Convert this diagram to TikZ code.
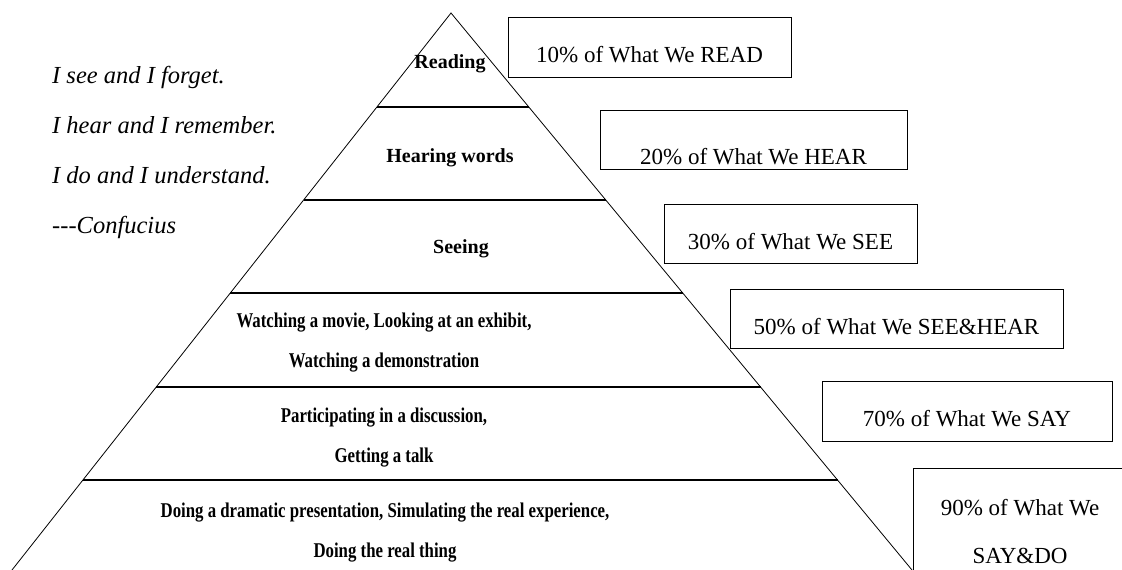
\documentclass[tikz,border=0pt]{standalone}
\usepackage{fontspec}
\setmainfont{Liberation Serif}
\newfontfamily\pyrfont[FakeStretch=0.8]{Liberation Serif}
\usetikzlibrary{calc}

\begin{document}
\begin{tikzpicture}[x=1pt, y=-1pt,
  level/.style={font=\pyrfont\bfseries\fontsize{21}{40}\selectfont, align=center, anchor=base, inner sep=0pt},
  toplevel/.style={level, font=\bfseries\fontsize{20}{40}\selectfont},
  pct/.style={draw, line width=0.9pt, inner sep=0pt, font=\fontsize{23}{48}\selectfont, text height=31pt, text depth=0pt},
  quote/.style={font=\itshape\fontsize{24.5}{28}\selectfont, anchor=base west, inner sep=0pt}]
\useasboundingbox (0,0) rectangle (1122,570);

% pyramid
\coordinate (top) at (451,13);
\coordinate (bl) at (12,570);
\coordinate (br) at (912,570);
\draw[line width=0.8pt] (bl) -- (top) -- (br);
\draw[line width=1.3pt] ($(top)!0.1688!(bl)$) -- ($(top)!0.1688!(br)$);
\draw[line width=1.3pt] ($(top)!0.3357!(bl)$) -- ($(top)!0.3357!(br)$);
\draw[line width=1.3pt] ($(top)!0.5027!(bl)$) -- ($(top)!0.5027!(br)$);
\draw[line width=1.3pt] ($(top)!0.6714!(bl)$) -- ($(top)!0.6714!(br)$);
\draw[line width=1.3pt] ($(top)!0.8384!(bl)$) -- ($(top)!0.8384!(br)$);

% levels
\node[toplevel] (read) at (450,68) {Reading};
\node[toplevel] (hear) at (450,162) {Hearing words};
\node[toplevel] (see) at (461,253) {Seeing};
\node[level] (seehear) at (384,367) {Watching a movie, Looking at an exhibit,\\Watching a demonstration};
\node[level] (say) at (384,462) {Participating in a discussion,\\Getting a talk};
\node[level] (sayde) at (385,557) {Doing a dramatic presentation, Simulating the real experience,\\Doing the real thing};

% percentages
\node[pct, minimum width=283pt, minimum height=60pt] (p10) at (649.5,47) {10\% of What We READ};
\node[pct, minimum width=307pt, minimum height=59pt, text height=49pt] (p20) at (753.5,139.5) {20\% of What We HEAR};
\node[pct, minimum width=253pt, minimum height=59pt] (p30) at (790.5,233.5) {30\% of What We SEE};
\node[pct, minimum width=333pt, minimum height=59pt] (p50) at (896.5,318.5) {50\% of What We SEE\&HEAR};
\node[pct, minimum width=290pt, minimum height=60pt] (p70) at (967,411) {70\% of What We SAY};
\node[pct, minimum width=214pt, minimum height=126pt, text height=, text depth=, align=center, anchor=north] (p90) at (1020,468) {90\% of What We\\SAY\&DO};

% quote
\node[quote] (q1) at (52,83) {I see and I forget.};
\node[quote] (q2) at (52,133) {I hear and I remember.};
\node[quote] (q3) at (52,183) {I do and I understand.};
\node[quote] (q4) at (52,233) {-{}-{}-Confucius};
\end{tikzpicture}
\end{document}
